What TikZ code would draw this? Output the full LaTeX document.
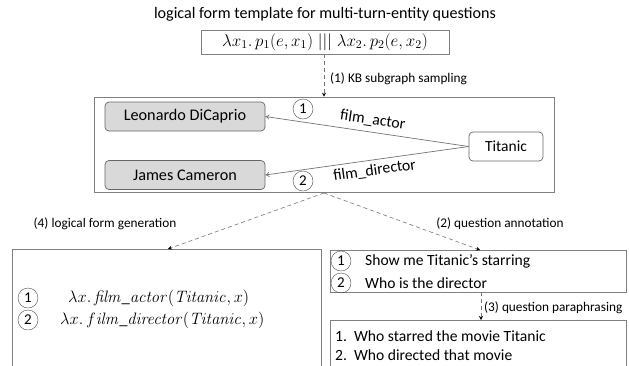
\RequirePackage{fix-cm}
\documentclass[tikz,border=0pt]{standalone}
\usepackage[no-math]{fontspec}
\setmainfont{Carlito}
\usetikzlibrary{arrows.meta}
\tikzset{
  box/.style={draw=black!50, line width=0.7pt},
  entity/.style={draw=black!60, rounded corners=4pt, fill=black!15, minimum width=160pt, minimum height=29pt, font=\fontsize{16.2}{18}\selectfont, line width=0.7pt},
  topic/.style={draw=black!60, rounded corners=4pt, fill=white, minimum width=74pt, minimum height=29pt, font=\fontsize{15.5}{18}\selectfont, line width=0.7pt},
  num/.style={draw=black!70, circle, inner sep=0pt, minimum size=20pt, font=\fontsize{15}{16}\selectfont},
  rel/.style={draw=black!55, line width=0.7pt, -{To[length=4pt,width=5pt]}},
  flow/.style={draw=black!55, line width=0.6pt, dash pattern=on 4pt off 3pt, -{Stealth[length=4pt,width=4pt,black]}},
  lab/.style={font=\fontsize{13.3}{15}\selectfont, inner sep=1pt},
  rlab/.style={font=\fontsize{15.8}{18}\selectfont, inner sep=1pt, sloped},
  txt/.style={font=\fontsize{15.6}{19}\selectfont, inner sep=1pt, anchor=west},
  frm/.style={font=\fontsize{16.5}{18}\selectfont, inner sep=0pt}
}
\begin{document}
\begin{tikzpicture}[x=1pt,y=-1pt]
\useasboundingbox (0,0) rectangle (629,365);
\clip (0,0) rectangle (629,365);
% title
\node[font=\fontsize{16.1}{19}\selectfont] (title) at (325,14) {logical form template for multi-turn-entity questions};
\node[box, minimum width=248pt, minimum height=24pt, inner sep=0pt, font=\fontsize{17}{18}\selectfont] (tmpl) at (325,42) {$\lambda x_1.\,p_1(e,x_1)\;|||\;\lambda x_2.\,p_2(e,x_2)$};
% middle box
\node[box, minimum width=460pt, minimum height=95pt, inner sep=0pt] (kb) at (324,144.5) {};
\coordinate (tb) at (324,54);
\draw[flow] (tb) -- (tb |- kb.north);
\node[lab, anchor=west] (l1) at (329,79) {(1) KB subgraph sampling};
\node[entity] (leo) at (185,116.5) {Leonardo DiCaprio};
\node[entity] (jc) at (185,175) {James Cameron};
\node[topic] (tit) at (506,146.5) {Titanic};
\draw[rel] (tit.west) -- (leo.east) node[rlab, pos=0.48, above=4pt] (fa) {film\_actor};
\draw[rel] (tit.west) -- (jc.east) node[rlab, pos=0.47, below=3pt] (fd) {film\_director};
\node[num] (c1) at (303,109) {1};
\node[num] (c2) at (303,181) {2};
% bottom boxes
\draw[box] (12,380) |- (321,249) -- (321,380);
\coordinate (lb) at (168,249);
\node[box, minimum width=296pt, minimum height=42pt, inner sep=0pt] (rt) at (478,271) {};
\coordinate (rtt) at (480,250);
\draw[box] (330,380) |- (626,320) -- (626,380);
\coordinate (rbt) at (481,320);
\coordinate (rtb) at (481,292);
\coordinate (kbb) at (324,193);
\draw[flow] (kbb) -- (lb);
\draw[flow] (kbb) -- (rtt);
\draw[flow] (rtb) -- (rbt);
\node[lab] (l4) at (105,224) {(4) logical form generation};
\node[lab] (l2) at (500,224) {(2) question annotation};
\node[lab, anchor=west] (l3) at (483,308) {(3) question paraphrasing};
% left box contents
\node[num] (d1) at (28,298) {1};
\node[num] (d2) at (28,320) {2};
\node[frm, anchor=west] (f1) at (68,298) {$\lambda x.\,\mathit{film\_actor}(\mathit{Titanic},x)$};
\node[frm, anchor=west] (f2) at (60,320) {$\lambda x.\,f\mathit{ilm\_director}(\mathit{Titanic},x)$};
% right top box contents
\node[num] (e1) at (341,261) {1};
\node[num] (e2) at (341,283) {2};
\node[txt] (q1) at (364,261) {Show me Titanic’s starring};
\node[txt] (q2) at (364,283) {Who is the director};
% right bottom box contents
\node[txt] (p1) at (334,336) {1.\hspace{7pt}Who starred the movie Titanic};
\node[txt] (p2) at (334,355) {2.\hspace{7pt}Who directed that movie};
\end{tikzpicture}
\end{document}
